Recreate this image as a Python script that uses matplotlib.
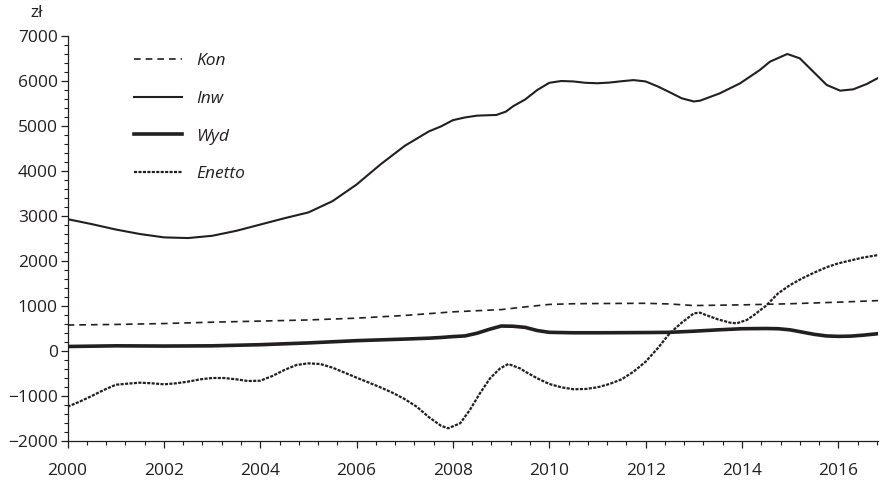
import numpy as np
import matplotlib
matplotlib.use('Agg')
import matplotlib.pyplot as plt
from matplotlib.ticker import MultipleLocator

plt.rcParams['font.family'] = ['Open Sans', 'DejaVu Sans']

# ===== values =====
kon_x = [2000, 2001, 2002, 2003, 2004, 2005, 2006, 2007, 2007.5, 2008, 2008.5, 2009,
         2009.5, 2010, 2010.5, 2011, 2012, 2012.5, 2013, 2014, 2015, 2016, 2016.83]
kon_y = [577, 590, 610, 640, 665, 690, 730, 790, 830, 870, 895, 920,
         980, 1035, 1050, 1055, 1060, 1045, 1010, 1025, 1050, 1085, 1120]

inw_x = [2000, 2000.5, 2001, 2001.5, 2002, 2002.5, 2003, 2003.5, 2004, 2004.5, 2005,
         2005.5, 2006, 2006.5, 2007, 2007.5, 2007.75, 2008, 2008.25, 2008.5, 2008.75,
         2008.9, 2009.1, 2009.25, 2009.5, 2009.75, 2010, 2010.25, 2010.5, 2010.75, 2011,
         2011.25, 2011.5, 2011.75, 2012, 2012.25, 2012.5, 2012.75, 2013, 2013.13, 2013.54,
         2013.96, 2014.37, 2014.58, 2014.94, 2015.2, 2015.48, 2015.76, 2016.04, 2016.31,
         2016.59, 2016.83]
inw_y = [2930, 2820, 2700, 2600, 2525, 2510, 2560, 2670, 2810, 2950, 3080,
         3330, 3700, 4150, 4560, 4880, 4990, 5130, 5190, 5230, 5240,
         5245, 5320, 5440, 5590, 5800, 5960, 6000, 5990, 5960, 5950,
         5965, 5995, 6020, 5990, 5880, 5750, 5615, 5545, 5563, 5726,
         5948, 6244, 6429, 6600, 6504, 6207, 5911, 5785, 5815,
         5933, 6070]

wyd_x = [2000, 2001, 2002, 2003, 2004, 2005, 2006, 2007, 2007.5, 2007.75, 2008, 2008.25,
         2008.5, 2008.75, 2009, 2009.25, 2009.5, 2009.75, 2010, 2010.5, 2011, 2012,
         2012.5, 2013, 2013.5, 2014, 2014.5, 2014.75, 2015, 2015.25, 2015.5, 2015.75,
         2016, 2016.25, 2016.5, 2016.83]
wyd_y = [100, 115, 110, 115, 140, 180, 230, 265, 285, 300, 320, 335,
         395, 480, 555, 550, 525, 455, 415, 405, 405, 410,
         415, 440, 470, 495, 500, 495, 470, 420, 370, 335,
         325, 330, 350, 385]

ene_x = [2000, 2000.25, 2000.5, 2000.75, 2001, 2001.25, 2001.5, 2001.75, 2002, 2002.25,
         2002.5, 2002.75, 2003, 2003.25, 2003.5, 2003.75, 2004, 2004.25, 2004.5, 2004.75,
         2005, 2005.25, 2005.5, 2005.75, 2006, 2006.25, 2006.5, 2006.75, 2007, 2007.25,
         2007.5, 2007.75, 2007.9, 2008.15, 2008.35, 2008.56, 2008.77, 2008.98, 2009.15,
         2009.39, 2009.5, 2009.75, 2010, 2010.25, 2010.5, 2010.75, 2011, 2011.25, 2011.5,
         2011.75, 2012, 2012.25, 2012.5, 2012.75, 2013, 2013.13, 2013.25, 2013.5, 2013.75,
         2013.89, 2014.1, 2014.25, 2014.5, 2014.75, 2015, 2015.25, 2015.5, 2015.75, 2016,
         2016.5, 2016.83]
ene_y = [-1237, -1126, -1000, -867, -750, -725, -704, -718, -740, -718,
         -681, -630, -600, -600, -630, -667, -660, -556, -422, -311,
         -274, -290, -370, -481, -593, -700, -810, -930, -1070, -1240,
         -1470, -1660, -1718, -1607, -1311, -941, -607, -385, -289,
         -385, -459, -607, -733, -807, -850, -844, -807, -733, -630,
         -459, -237, 59, 393, 630, 837, 852, 800, 704, 630,
         615, 689, 800, 1007, 1281, 1467, 1615, 1741, 1859, 1948,
         2074, 2133]

dark = '#231f20'

fig = plt.figure(figsize=(8.8, 4.83), dpi=100, facecolor='white')
ax = fig.add_axes([67.6 / 880, 1 - 441 / 483, (878.3 - 67.6) / 880, (441 - 36) / 483])

ax.plot(kon_x, kon_y, color=dark, lw=1.2, dashes=(4, 3), label='Kon')
ax.plot(inw_x, inw_y, color=dark, lw=1.5, label='Inw')
ax.plot(wyd_x, wyd_y, color=dark, lw=2.6, label='Wyd')
ax.plot(ene_x, ene_y, color=dark, lw=1.6, dashes=(1.4, 0.6), label='Enetto')

ax.set_xlim(2000, 2016.83)
ax.set_ylim(-2000, 7000)
ax.xaxis.set_major_locator(MultipleLocator(2))
ax.xaxis.set_minor_locator(MultipleLocator(0.4))
ax.yaxis.set_major_locator(MultipleLocator(1000))
ax.yaxis.set_minor_locator(MultipleLocator(200))
ax.yaxis.set_major_formatter(plt.FuncFormatter(lambda v, p: f'{int(v)}'.replace('-', '\u2212')))

for s in ['top', 'right']:
    ax.spines[s].set_visible(False)
for s in ['left', 'bottom']:
    ax.spines[s].set_linewidth(0.9)
    ax.spines[s].set_color(dark)

ax.tick_params(which='major', length=5, width=0.9, color=dark, labelsize=12.5, labelcolor=dark)
ax.tick_params(which='minor', length=3, width=0.8, color=dark)
ax.tick_params(axis='x', which='major', pad=11)
ax.tick_params(axis='y', which='major', pad=2)

fig.text(37 / 880, 1 - 13 / 483, 'zł', ha='center', va='center', fontsize=12.5, color=dark)

leg = ax.legend(loc='upper left', bbox_to_anchor=(125 / 880, 1 - 44 / 483),
                bbox_transform=fig.transFigure, frameon=False, handlelength=2.8,
                handletextpad=0.8, labelspacing=1.25, fontsize=12.5, borderpad=0)
for t in leg.get_texts():
    t.set_fontstyle('italic')
    t.set_color(dark)

plt.savefig('out.png', dpi=100, facecolor='white')
